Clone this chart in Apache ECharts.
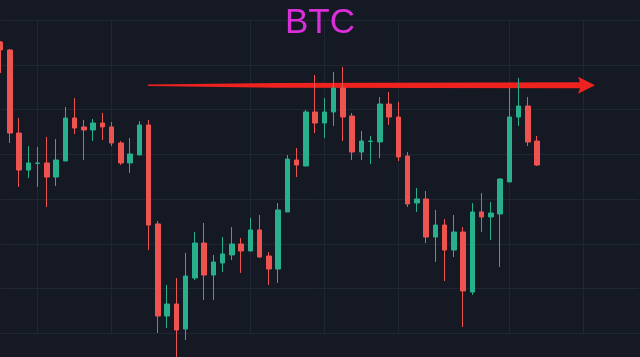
<!DOCTYPE html>
<html>
<head>
<meta charset="utf-8">
<script src="https://cdn.jsdelivr.net/npm/echarts@6/dist/echarts.min.js"></script>
<style>
html,body{margin:0;padding:0;background:#151924;}
#chart{width:640px;height:357px;}
</style>
</head>
<body>
<div id="chart"></div>
<script>
// Categories (hourly slots; the last ones are empty space on the right)
const categories = ['1','2','3','4','5','6','7','8','9','10','11','12','13','14','15','16','17','18','19','20',
  '21','22','23','24','25','26','27','28','29','30','31','32','33','34','35','36','37','38','39','40',
  '41','42','43','44','45','46','47','48','49','50','51','52','53','54','55','56','57','58','59','60',
  '61','62','63','64','65','66','67','68','69','70'];

const opens  = [47254,47165,46238,45825,45898,45904,45747,45926,46406,46306,46272,46350,46306,46127,45904,45993,46328,45223,44195,44329,
                44050,44620,45010,44653,44787,44877,44999,44921,45156,44865,44720,45357,45937,45870,46473,46350,46473,46741,46428,46026,
                46144,46138,46562,46417,45982,45457,45502,45077,45211,44932,45133,44463,45357,45301,45334,45692,46417,46540,46149];
const closes = [47165,46238,45825,45904,45904,45747,45937,46406,46294,46272,46350,46306,46127,45904,46004,46328,45211,44195,44329,44039,
                44642,45010,44653,44798,44888,44999,44921,45156,44854,44720,45379,45948,45881,46473,46350,46473,46741,46417,46026,46149,
                46149,46562,46417,45971,45446,45502,45077,45211,44932,45133,44475,45357,45301,45345,45725,46417,46540,46138,45881];
const lows   = [46908,46127,45636,45736,45636,45412,45647,45926,46227,45937,46149,46160,46093,45881,45792,45993,44932,44006,44062,43704,
                43928,44597,44374,44374,44687,44821,44676,44921,44843,44542,44564,45357,45747,45870,46238,46183,46317,46149,45937,45937,
                45892,45959,46328,45926,45412,45357,45010,44798,44586,44854,44073,44430,45133,45044,44743,45692,46317,46093,45870];
const highs  = [47266,47176,46406,46093,46082,46194,46172,46529,46629,46384,46395,46462,46361,46149,46183,46372,46384,45256,44542,44620,
                44899,45133,45234,44877,45077,45189,45066,45290,45323,44910,45457,45993,46071,46495,46886,46629,46920,46975,46462,46261,
                46205,46640,46696,46585,46026,45625,45591,45379,45278,45323,45189,45457,45569,45468,45736,46741,46853,46640,46205];

// Price axis ticks
const priceMin = 44000, priceMax = 47500, priceStep = 500;
// Vertical time grid lines at these category indices
const timeGridIdx = [4, 12, 27, 35, 43, 55, 63];
// Resistance arrow: [startSlot, price, endSlot, price]
const arrowLine = [15.9, 46771, 64.25, 46771];

const ohlc = opens.map((o, i) => [o, closes[i], lows[i], highs[i]]);

const chart = echarts.init(document.getElementById('chart'), null, {renderer: 'canvas'});
chart.setOption({
  backgroundColor: '#151924',
  animation: false,
  title: {
    text: 'BTC',
    left: 'center',
    top: 1,
    textStyle: {color: '#d92fd9', fontSize: 35, fontWeight: 'normal', fontFamily: 'Liberation Sans, Arial, sans-serif'}
  },
  grid: {left: 0.7, right: 1.05, top: 20, bottom: 23.5, containLabel: false},
  xAxis: [{
    type: 'category',
    data: categories,
    boundaryGap: false,
    axisLine: {show: false}, axisTick: {show: false}, axisLabel: {show: false},
    splitLine: {show: true, interval: (idx) => timeGridIdx.includes(idx), lineStyle: {color: '#212633', width: 1}}
  }, {
    type: 'value', min: 0, max: categories.length - 1, show: false
  }],
  yAxis: {
    type: 'value', min: priceMin, max: priceMax, interval: priceStep,
    axisLine: {show: false}, axisTick: {show: false}, axisLabel: {show: false},
    splitLine: {show: true, lineStyle: {color: '#212633', width: 1}}
  },
  series: [{
    type: 'candlestick',
    data: ohlc,
    barWidth: 5,
    clip: false,
    itemStyle: {
      color: '#27b08b', color0: '#ef5350',
      borderColor: '#27b08b', borderColor0: '#ef5350', borderWidth: 1
    }
  }, {
    type: 'custom',
    xAxisIndex: 1,
    yAxisIndex: 0,
    data: [arrowLine],
    renderItem: function (params, api) {
      const s = api.coord([api.value(0), api.value(1)]);
      const e = api.coord([api.value(2), api.value(3)]);
      const headLen = 17, headHalf = 8.5, w0 = 0.7, wm = 2.4, w1 = 3;
      const bx = e[0] - headLen;
      const mx = s[0] + (bx - s[0]) * 0.3;
      return {
        type: 'polygon',
        shape: {points: [
          [s[0], s[1] - w0], [mx, s[1] - wm], [bx + 2, e[1] - w1], [bx, e[1] - headHalf], [e[0], e[1]],
          [bx, e[1] + headHalf], [bx + 2, e[1] + w1], [mx, s[1] + wm], [s[0], s[1] + w0]
        ]},
        style: {fill: '#ee2320'}
      };
    }
  }]
});
</script>
</body>
</html>
